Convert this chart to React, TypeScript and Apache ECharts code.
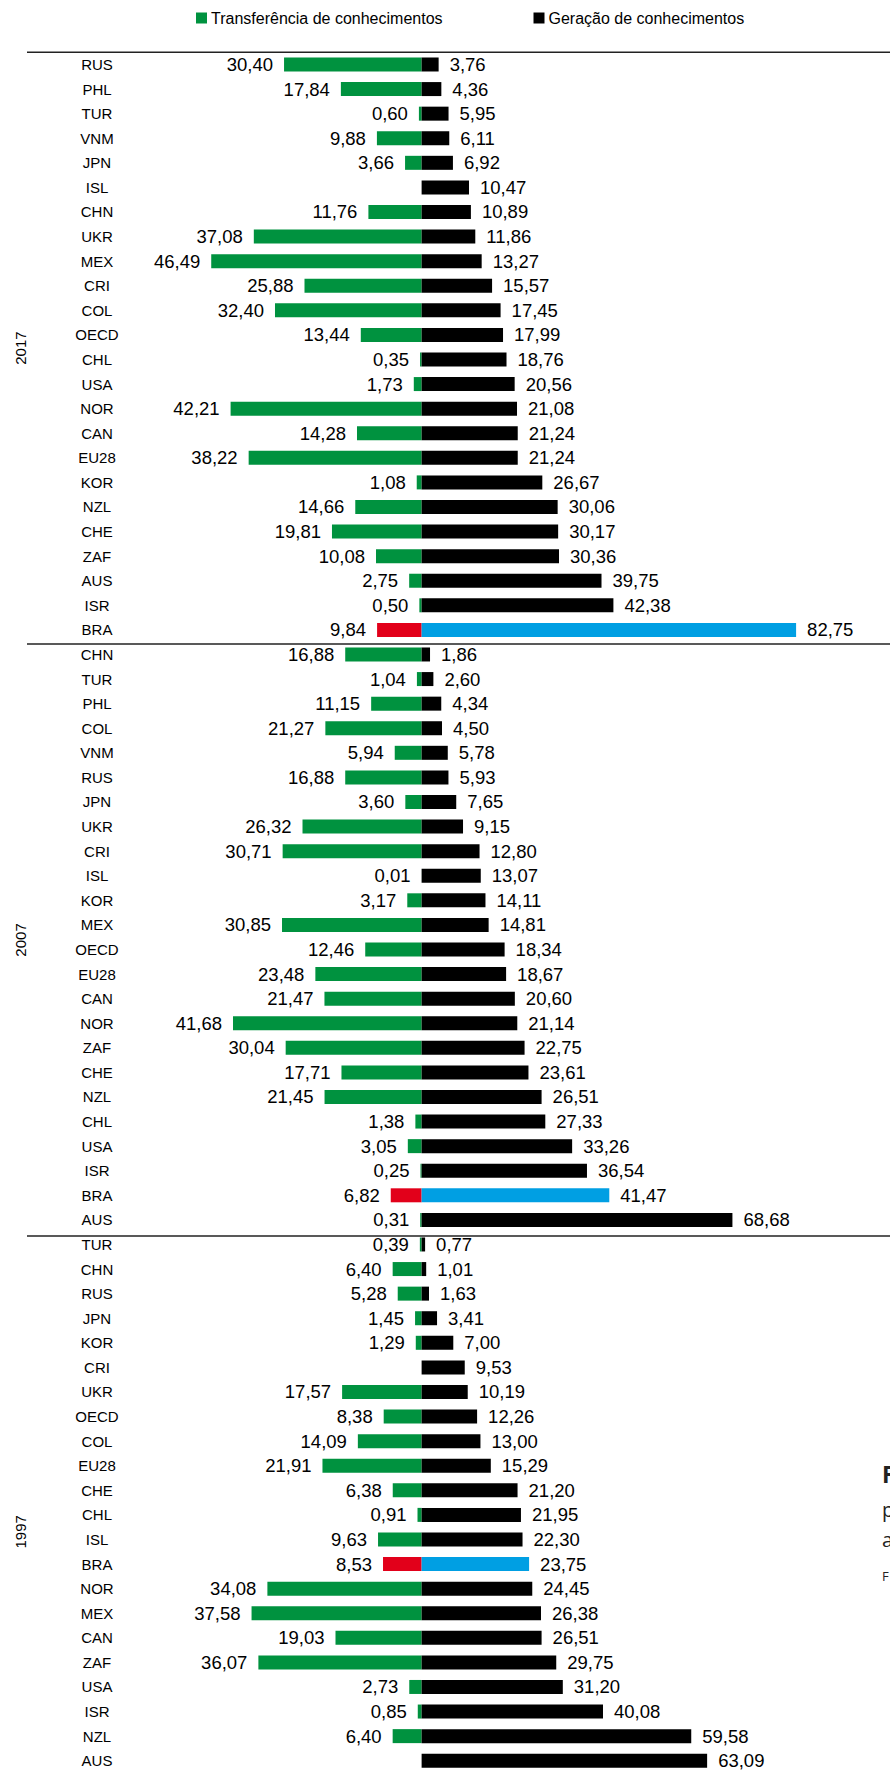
import React, { useEffect, useRef } from "react";
import * as echarts from "echarts";

const legendTransfer = "Transferência de conhecimentos";
const legendGeneration = "Geração de conhecimentos";
const years = ["2017", "2007", "1997"];

const countries2017 = ["RUS", "PHL", "TUR", "VNM", "JPN", "ISL", "CHN", "UKR", "MEX", "CRI", "COL", "OECD", "CHL", "USA", "NOR", "CAN", "EU28", "KOR", "NZL", "CHE", "ZAF", "AUS", "ISR", "BRA"];
const transfer2017 = [30.40, 17.84, 0.60, 9.88, 3.66, null, 11.76, 37.08, 46.49, 25.88, 32.40, 13.44, 0.35, 1.73, 42.21, 14.28, 38.22, 1.08, 14.66, 19.81, 10.08, 2.75, 0.50, 9.84];
const generation2017 = [3.76, 4.36, 5.95, 6.11, 6.92, 10.47, 10.89, 11.86, 13.27, 15.57, 17.45, 17.99, 18.76, 20.56, 21.08, 21.24, 21.24, 26.67, 30.06, 30.17, 30.36, 39.75, 42.38, 82.75];

const countries2007 = ["CHN", "TUR", "PHL", "COL", "VNM", "RUS", "JPN", "UKR", "CRI", "ISL", "KOR", "MEX", "OECD", "EU28", "CAN", "NOR", "ZAF", "CHE", "NZL", "CHL", "USA", "ISR", "BRA", "AUS"];
const transfer2007 = [16.88, 1.04, 11.15, 21.27, 5.94, 16.88, 3.60, 26.32, 30.71, 0.01, 3.17, 30.85, 12.46, 23.48, 21.47, 41.68, 30.04, 17.71, 21.45, 1.38, 3.05, 0.25, 6.82, 0.31];
const generation2007 = [1.86, 2.60, 4.34, 4.50, 5.78, 5.93, 7.65, 9.15, 12.80, 13.07, 14.11, 14.81, 18.34, 18.67, 20.60, 21.14, 22.75, 23.61, 26.51, 27.33, 33.26, 36.54, 41.47, 68.68];

const countries1997 = ["TUR", "CHN", "RUS", "JPN", "KOR", "CRI", "UKR", "OECD", "COL", "EU28", "CHE", "CHL", "ISL", "BRA", "NOR", "MEX", "CAN", "ZAF", "USA", "ISR", "NZL", "AUS"];
const transfer1997 = [0.39, 6.40, 5.28, 1.45, 1.29, null, 17.57, 8.38, 14.09, 21.91, 6.38, 0.91, 9.63, 8.53, 34.08, 37.58, 19.03, 36.07, 2.73, 0.85, 6.40, null];
const generation1997 = [0.77, 1.01, 1.63, 3.41, 7.00, 9.53, 10.19, 12.26, 13.00, 15.29, 21.20, 21.95, 22.30, 23.75, 24.45, 26.38, 26.51, 29.75, 31.20, 40.08, 59.58, 63.09];

const GREEN = "#00923f";
const BLACK = "#000000";
const RED = "#e2001a";
const BLUE = "#009fe3";
const FONT = "'Liberation Sans', Arial, Helvetica, sans-serif";

export default function App() {
  const ref = useRef<HTMLDivElement>(null);

  useEffect(() => {
    document.body.style.margin = "0";
    document.body.style.overflow = "hidden";
    const chart = echarts.init(ref.current!, null, { renderer: "svg" });

    const groups = [
      { year: years[0], c: countries2017, t: transfer2017, g: generation2017 },
      { year: years[1], c: countries2007, t: transfer2007, g: generation2007 },
      { year: years[2], c: countries1997, t: transfer1997, g: generation1997 },
    ];
    const cats: string[] = [];
    const tData: any[] = [];
    const gData: any[] = [];
    groups.forEach((gr) => {
      gr.c.forEach((code, i) => {
        cats.push(gr.year + "|" + code);
        const isBra = code === "BRA";
        const tv = gr.t[i];
        tData.push(tv == null ? "-" : { value: -tv, itemStyle: isBra ? { color: RED } : undefined });
        gData.push({ value: gr.g[i], itemStyle: isBra ? { color: BLUE } : undefined });
      });
    });

    const gridTop = 52.2;
    const band = 24.66;
    const gridLeft = 27;
    const fmt = (p: any) => Math.abs(Number(p.value)).toFixed(2).replace(".", ",");

    const yearLabels = years.map((y, k) => ({
      type: "text",
      x: 20,
      y: gridTop + (k * 24 + 12) * band,
      rotation: Math.PI / 2,
      style: {
        text: y,
        fontSize: 15,
        fontFamily: FONT,
        fill: "#000",
        align: "center",
        verticalAlign: "middle",
      },
    }));

    const sepLines = [0, 24, 48].map((idx) => ({
      type: "line",
      shape: { x1: gridLeft, y1: gridTop + idx * band, x2: 890, y2: gridTop + idx * band },
      style: { stroke: "#222", lineWidth: 1.5 },
      silent: true,
    }));

    const edgeText = [
      { t: "F", y: 1474, s: 23, w: "bold" },
      { t: "p", y: 1509, s: 20, w: "normal" },
      { t: "a", y: 1539, s: 20, w: "normal" },
      { t: "F", y: 1576, s: 13, w: "normal" },
    ].map((e) => ({
      type: "text",
      x: 882,
      y: e.y,
      style: {
        text: e.t,
        fontSize: e.s,
        fontWeight: e.w,
        fontFamily: "'Open Sans', sans-serif",
        fill: "#222",
        align: "left",
        verticalAlign: "middle",
      },
    }));

    const legendBase = {
      top: 10,
      padding: 0,
      itemWidth: 11,
      itemHeight: 11,
      icon: "rect",
      textStyle: { fontSize: 16, fontFamily: FONT, color: "#000", padding: [0, 0, 0, -1] },
    };

    chart.setOption({
      animation: false,
      legend: [
        { ...legendBase, data: [legendTransfer], left: 196 },
        { ...legendBase, data: [legendGeneration], left: 533.5 },
      ],
      grid: { left: gridLeft, top: gridTop, width: 863, height: band * cats.length },
      xAxis: { type: "value", min: -87.2, max: 103.5, show: false },
      yAxis: {
        type: "category",
        data: cats,
        inverse: true,
        offset: -(97 - gridLeft),
        axisLine: { show: false },
        axisTick: { show: false },
        splitLine: { show: false },
        axisLabel: {
          formatter: (v: string) => v.split("|")[1],
          fontSize: 15,
          fontFamily: FONT,
          color: "#000",
          align: "center",
          margin: 0,
          interval: 0,
        },
      },
      series: [
        {
          type: "bar",
          name: legendTransfer,
          stack: "s",
          data: tData,
          barWidth: 14,
          itemStyle: { color: GREEN },
          label: { show: true, position: "left", distance: 11, formatter: fmt, fontSize: 18.5, fontFamily: FONT, color: "#000" },
        },
        {
          type: "bar",
          name: legendGeneration,
          stack: "s",
          data: gData,
          barWidth: 14,
          itemStyle: { color: BLACK },
          label: { show: true, position: "right", distance: 11, formatter: fmt, fontSize: 18.5, fontFamily: FONT, color: "#000" },
        },
      ],
      graphic: [...sepLines, ...yearLabels, ...edgeText],
    });

    return () => chart.dispose();
  }, []);

  return (
    <div
      ref={ref}
      style={{ position: "absolute", left: 0, top: 0, width: 890, height: 1773, background: "#fff" }}
    />
  );
}
